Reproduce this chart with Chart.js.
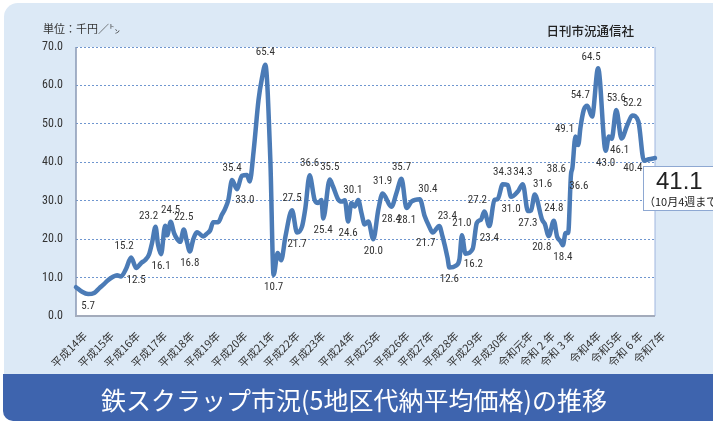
<!DOCTYPE html>
<html>
<head>
<meta charset="utf-8">
<style>
  html, body { margin: 0; padding: 0; background: #fff; }
  canvas { display: block; }
</style>
</head>
<body>
<canvas id="chart" width="713" height="421"></canvas>
<script src="https://cdn.jsdelivr.net/npm/chart.js"></script>
<script>
// year labels and where each one sits along the series
const yearLabels = ['平成14年', '平成15年', '平成16年', '平成17年', '平成18年', '平成19年', '平成20年',
    '平成21年', '平成22年', '平成23年', '平成24年', '平成25年', '平成26年', '平成27年', '平成28年',
    '平成29年', '平成30年', '令和元年', '令和 2 年', '令和 3 年', '令和4年', '令和5年', '令和 6 年', '令和7年'];
const yearPos = [0, 1.07, 2.11, 3.18, 4.26, 5.29, 6.37, 7.44, 8.44, 9.47, 10.62, 11.66, 12.81,
    13.77, 14.76, 15.72, 16.71, 17.71, 18.58, 19.38, 20.41, 21.25, 22.08, 22.96];

// price series (千円/t)
const seriesX = [0.00, 0.24, 0.48, 0.72, 0.92, 1.11, 1.27, 1.47, 1.63, 1.79, 1.99, 2.19, 2.39, 2.59,
    2.75, 2.90, 3.02, 3.16, 3.26, 3.38, 3.54, 3.62, 3.76, 3.90, 4.02, 4.14, 4.28, 4.40, 4.52, 4.66,
    4.80, 4.89, 5.05, 5.21, 5.33, 5.45, 5.65, 5.80, 5.93, 6.05, 6.20, 6.39, 6.59, 6.79, 6.90, 7.06,
    7.25, 7.39, 7.52, 7.72, 7.85, 8.01, 8.15, 8.32, 8.58, 8.78, 8.98, 9.11, 9.28, 9.48, 9.62, 9.75,
    9.82, 10.08, 10.21, 10.41, 10.55, 10.68, 10.81, 10.94, 11.07, 11.21, 11.34, 11.47, 11.61, 11.81,
    12.01, 12.18, 12.53, 12.73, 12.93, 13.13, 13.33, 13.66, 13.85, 14.03, 14.17, 14.43, 14.56, 14.76,
    14.83, 15.09, 15.23, 15.33, 15.47, 15.76, 15.92, 16.09, 16.22, 16.42, 16.62, 16.75, 16.95, 17.15,
    17.28, 17.55, 17.75, 17.95, 18.08, 18.22, 18.52, 18.62, 18.78, 18.98, 19.11, 19.25, 19.34, 19.45,
    19.55, 19.66, 19.72, 19.84, 19.95, 20.04, 20.17, 20.31, 20.50, 20.74, 21.04, 21.17, 21.28, 21.46,
    21.67, 21.90, 22.10, 22.34, 22.56, 22.76, 23.00];
const seriesY = [7.5, 6.3, 5.7, 6.0, 7.2, 8.3, 9.3, 10.2, 10.6, 10.3, 12.3, 15.2, 12.5, 13.8,
    14.6, 16.0, 19.0, 23.2, 18.5, 16.1, 23.5, 21.0, 24.5, 21.5, 20.0, 19.3, 22.5, 19.5, 16.8, 20.0,
    21.8, 21.5, 20.7, 21.5, 22.3, 24.4, 24.4, 26.4, 28.0, 30.2, 35.4, 33.0, 36.5, 36.7, 35.0, 43.2,
    56.2, 62.0, 65.4, 40.6, 10.7, 16.4, 14.5, 20.7, 27.5, 21.7, 23.3, 28.0, 36.6, 30.2, 29.4, 30.2,
    25.4, 35.5, 33.7, 30.4, 29.8, 30.1, 24.6, 29.4, 28.5, 30.2, 26.8, 23.8, 24.6, 20.0,
    27.7, 31.9, 28.4, 32.0, 35.7, 28.1, 29.8, 30.4, 26.0, 23.3, 21.7, 23.4, 20.7, 15.1,
    12.6, 13.1, 14.7, 21.0, 16.2, 17.5, 24.2, 25.1, 27.2, 23.4, 30.2, 30.4, 34.3, 34.1,
    31.0, 32.4, 34.3, 27.3, 27.5, 31.6, 25.0, 24.0, 20.8, 24.8, 20.7, 19.4, 18.4, 21.6,
    21.6, 36.6, 38.6, 46.7, 44.5, 49.1, 53.6, 54.7, 51.9, 64.5, 43.0, 46.7, 46.1, 53.6,
    46.2, 49.7, 52.2, 50.6, 40.4, 40.8, 41.1];

// value notes written on the line
const noteX = [0.48, 2.19, 2.39, 3.16, 3.38, 3.76, 4.28, 4.52, 6.20, 6.39, 7.52, 7.85, 8.58, 8.78,
    9.28, 9.82, 10.08, 10.81, 10.68, 11.81, 12.18, 12.53, 12.93, 13.13, 13.66, 14.17, 14.43, 14.83,
    15.33, 15.47, 16.22, 16.42, 16.95, 17.28, 17.75, 17.95, 18.22, 18.78, 18.98, 19.34, 19.72, 19.66,
    20.04, 20.31, 20.74, 21.04, 21.28, 21.46, 22.10, 22.56];
const noteText = ['5.7', '15.2', '12.5', '23.2', '16.1', '24.5', '22.5', '16.8', '35.4', '33.0', '65.4',
    '10.7', '27.5', '21.7', '36.6', '25.4', '35.5', '24.6', '30.1', '20.0', '31.9', '28.4', '35.7', '28.1',
    '30.4', '21.7', '23.4', '12.6', '21.0', '16.2', '27.2', '23.4', '34.3', '31.0', '34.3', '27.3', '31.6',
    '20.8', '24.8', '18.4', '38.6', '36.6', '49.1', '54.7', '64.5', '43.0', '46.1', '53.6', '52.2', '40.4'];
const noteSide = ['b', 'al', 'b', 'al', 'b', 'a', 'a', 'b', 'a', 'br', 'a', 'b', 'a', 'b', 'a', 'b', 'a',
    'b', 'ar', 'b', 'a', 'b', 'a', 'b', 'ar', 'bl', 'ar', 'b', 'a', 'br', 'al', 'b', 'a', 'b', 'a', 'b',
    'ar', 'bl', 'a', 'b', 'l', 'br', 'l', 'al', 'al', 'b', 'br', 'a', 'a', 'lb'];

const latestValue = '41.1';
const latestNote = '（10月4週まで';
const titleText = '鉄スクラップ市況(5地区代納平均価格)の推移';
const unitText = '単位：千円／㌧';
const sourceText = '日刊市況通信社';

const narrow = "'Liberation Sans Narrow', 'Roboto Condensed', 'Liberation Sans', sans-serif";
const jp = "'Noto Sans CJK JP', sans-serif";

const sideOffset = {
    a: [0, -12], b: [0, 12], l: [-16, 2], r: [16, 0],
    al: [-7, -11], ar: [8, -10], bl: [-7, 11], br: [8, 11], lb: [-11, 8]
};

function roundRect(c, x, y, w, h, r) {
    // r = [tl, tr, br, bl]
    c.beginPath();
    c.moveTo(x + r[0], y);
    c.lineTo(x + w - r[1], y);
    c.arcTo(x + w, y, x + w, y + r[1], r[1]);
    c.lineTo(x + w, y + h - r[2]);
    c.arcTo(x + w, y + h, x + w - r[2], y + h, r[2]);
    c.lineTo(x + r[3], y + h);
    c.arcTo(x, y + h, x, y + h - r[3], r[3]);
    c.lineTo(x, y + r[0]);
    c.arcTo(x, y, x + r[0], y, r[0]);
    c.closePath();
}

const decor = {
    id: 'decor',
    beforeDraw(chart) {
        const c = chart.ctx, a = chart.chartArea;
        c.save();
        c.fillStyle = '#ffffff';
        c.fillRect(0, 0, chart.width, chart.height);
        c.fillStyle = '#dce9f6';
        roundRect(c, 4, 3, 720, 375, [14, 0, 0, 0]);
        c.fill();
        c.fillStyle = '#3e64ae';
        roundRect(c, 3, 374, 720, 47, [0, 0, 0, 10]);
        c.fill();
        c.fillStyle = '#ffffff';
        c.fillRect(a.left, a.top, a.right - a.left, a.bottom - a.top);
        c.restore();
    },
    beforeDatasetsDraw(chart) {
        const c = chart.ctx, a = chart.chartArea;
        c.save();
        c.lineWidth = 1.5;
        c.strokeStyle = '#8a98b4';
        c.beginPath(); c.moveTo(a.left, a.top); c.lineTo(a.left, a.bottom); c.stroke();
        c.lineWidth = 1;
        c.strokeStyle = '#9fb6de';
        c.beginPath(); c.moveTo(a.right, a.top); c.lineTo(a.right, a.bottom); c.stroke();
        c.lineWidth = 2;
        c.strokeStyle = '#a3abbb';
        c.beginPath(); c.moveTo(a.left - 1, a.bottom); c.lineTo(a.right, a.bottom); c.stroke();
        c.restore();
    },
    afterDatasetsDraw(chart) {
        const c = chart.ctx, xs = chart.scales.x, ys = chart.scales.y;
        c.save();
        c.fillStyle = '#333333';
        c.font = '11px ' + narrow;
        c.textAlign = 'center';
        c.textBaseline = 'middle';
        noteText.forEach((t, i) => {
            const off = sideOffset[noteSide[i]];
            const px = xs.getPixelForValue(noteX[i]) + off[0];
            const py = ys.getPixelForValue(parseFloat(t)) + off[1];
            c.fillText(t, px, py);
        });

        // header texts
        c.fillStyle = '#333333';
        c.textAlign = 'left';
        c.font = '11px ' + jp;
        c.fillText(unitText, 43, 29);
        c.textAlign = 'right';
        c.fillStyle = '#222222';
        c.font = '500 12.5px ' + jp;
        c.fillText(sourceText, 634, 31);

        // latest value box
        c.fillStyle = '#ffffff';
        c.strokeStyle = '#8ea8d2';
        c.lineWidth = 1;
        c.fillRect(643.5, 166.5, 80, 44);
        c.strokeRect(643.5, 166.5, 80, 44);
        c.fillStyle = '#222222';
        c.textAlign = 'left';
        c.font = "24px 'Liberation Sans', sans-serif";
        c.fillText(latestValue, 656, 182);
        c.font = '11px ' + jp;
        c.fillText(latestNote, 644, 202);

        // banner title
        c.fillStyle = '#ffffff';
        c.textAlign = 'center';
        c.font = '25px ' + jp;
        c.fillText(titleText, 354, 400);
        c.restore();
    }
};

const ctx = document.getElementById('chart').getContext('2d');
const chart = new Chart(ctx, {
    type: 'line',
    data: {
        datasets: [{
            data: seriesX.map((x, i) => ({ x: x, y: seriesY[i] })),
            borderColor: '#4b7bb6',
            borderWidth: 4.5,
            pointRadius: 0,
            fill: false,
            cubicInterpolationMode: 'monotone',
            borderJoinStyle: 'round',
            borderCapStyle: 'round',
            clip: false
        }]
    },
    options: {
        responsive: false,
        animation: false,
        events: [],
        layout: { padding: { top: 47, right: 58, left: 0, bottom: 0 } },
        plugins: { legend: { display: false }, tooltip: { enabled: false } },
        scales: {
            x: {
                type: 'linear',
                min: 0,
                max: 23,
                afterBuildTicks: s => { s.ticks = yearPos.map(v => ({ value: v })); },
                afterFit: s => { s.height = 105; },
                grid: { display: false },
                border: { display: false },
                ticks: {
                    autoSkip: false,
                    minRotation: 45,
                    maxRotation: 45,
                    labelOffset: 9,
                    padding: 5,
                    color: '#333333',
                    font: { family: jp, size: 11 },
                    callback: (v, i) => yearLabels[i]
                }
            },
            y: {
                min: 0,
                max: 70,
                afterFit: s => { s.width = 76; },
                grid: {
                    color: c => c.tick.value === 0 ? 'rgba(0,0,0,0)' : '#6f96cf',
                    lineWidth: 1,
                    drawTicks: false
                },
                border: { display: false, dash: [2, 2] },
                ticks: {
                    stepSize: 10,
                    padding: 13,
                    color: '#333333',
                    font: { family: narrow, size: 12 },
                    callback: v => v.toFixed(1)
                }
            }
        }
    },
    plugins: [decor]
});
</script>
</body>
</html>
